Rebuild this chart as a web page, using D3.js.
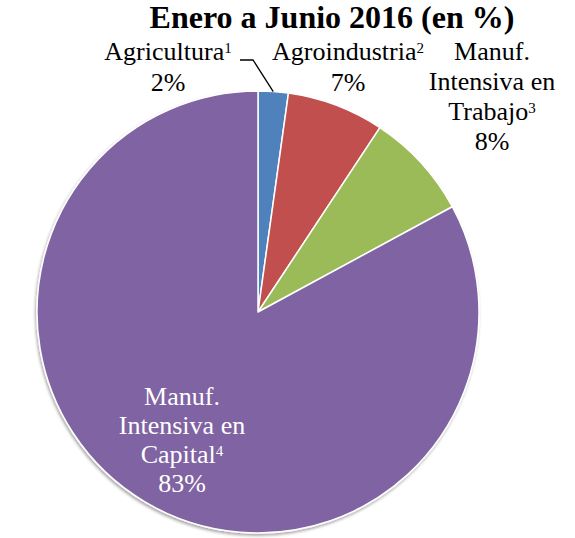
<!DOCTYPE html>
<html>
<head>
<meta charset="utf-8">
<script src="https://cdn.jsdelivr.net/npm/d3@7"></script>
<style>
  body { margin: 0; background: #fff; }
  text { font-family: "Liberation Serif", "Times New Roman", serif; }
</style>
</head>
<body>
<div id="chart"></div>
<script>
var width = 575, height = 538;

// data
const categories = ["Agricultura", "Agroindustria", "Manuf. Intensiva en Trabajo", "Manuf. Intensiva en Capital"];
const values = [2.2, 7.1, 7.8, 82.9];
const notes = ["1", "2", "3", "4"];
const colors = ["#4F81BD", "#C0504D", "#9BBB59", "#8064A2"];

const titleText = "Enero a Junio 2016 (en %)";

// label layout: centre x, first baseline, line step, colour, how the name wraps
const labelLayout = [
  { x: 168, y: 60, step: 31, fill: "#000", lines: ["Agricultura"] },
  { x: 348, y: 60, step: 31, fill: "#000", lines: ["Agroindustria"] },
  { x: 492, y: 60, step: 30, fill: "#000", lines: ["Manuf.", "Intensiva en", "Trabajo"] },
  { x: 182, y: 405, step: 29, fill: "#fff", lines: ["Manuf.", "Intensiva en", "Capital"] }
];

var cx = 258, cy = 312, radius = 221;

var svg = d3.select("#chart").append("svg")
  .attr("width", width)
  .attr("height", height);

var defs = svg.append("defs");
var shadow = defs.append("filter").attr("id", "shadow")
  .attr("x", "-10%").attr("y", "-10%").attr("width", "120%").attr("height", "120%");
shadow.append("feDropShadow")
  .attr("dx", -1).attr("dy", 2)
  .attr("stdDeviation", 1.5)
  .attr("flood-color", "#000")
  .attr("flood-opacity", 0.35);

svg.append("text")
  .attr("x", 332)
  .attr("y", 28)
  .attr("text-anchor", "middle")
  .style("font-size", "32px")
  .style("font-weight", "bold")
  .text(titleText);

var pie = d3.pie().sort(null).value(d => d);
var arcs = pie(values);

var arc = d3.arc().innerRadius(0).outerRadius(radius);

var g = svg.append("g").attr("transform", "translate(" + cx + "," + cy + ")");

g.append("g").attr("filter", "url(#shadow)")
  .selectAll("path.slice")
  .data(arcs)
  .enter().append("path")
  .attr("class", "slice")
  .attr("d", arc)
  .attr("fill", (d, i) => colors[i])
  .attr("stroke", "#fff")
  .attr("stroke-width", 1.5)
  .attr("stroke-linejoin", "round");

// leader line for the small first slice
var edge = d3.arc().innerRadius(radius).outerRadius(radius).centroid(arcs[0]);
svg.append("polyline")
  .attr("points", [[240, 60], [253, 60], [cx + edge[0], cy + edge[1]]].map(p => p.join(",")).join(" "))
  .attr("fill", "none")
  .attr("stroke", "#000")
  .attr("stroke-width", 1.3);

var pct = d3.format(".0f");

labelLayout.forEach(function(lay, i) {
  var t = svg.append("text")
    .attr("text-anchor", "middle")
    .attr("fill", lay.fill)
    .style("font-size", "26px");

  lay.lines.forEach(function(line, j) {
    var ts = t.append("tspan")
      .attr("x", lay.x)
      .attr("y", lay.y + j * lay.step);
    ts.append("tspan").text(line);
    if (j == lay.lines.length - 1) {
      ts.append("tspan")
        .attr("dy", -7)
        .style("font-size", "15px")
        .text(notes[i]);
    }
  });

  t.append("tspan")
    .attr("x", lay.x)
    .attr("y", lay.y + lay.lines.length * lay.step)
    .text(pct(values[i]) + "%");
});
</script>
</body>
</html>
